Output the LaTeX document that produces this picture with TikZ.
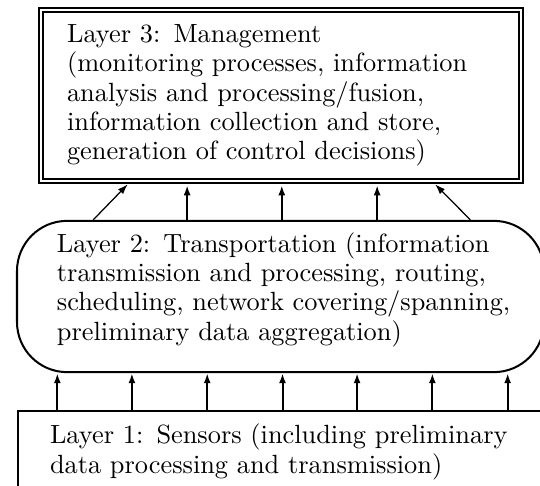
\documentclass[tikz,border=0pt]{standalone}
\usetikzlibrary{
    arrows.meta
}
\tikzset {
    double line/.style = {double, double distance = 0.8pt},
    layer/.style = {
        draw, line width = 0.8pt, inner sep = 0pt,
        font = \fontsize{10.45}{11.65}\selectfont, align = left
    },
    management/.style = {
        layer, double line,
        minimum width = 6.70cm, minimum height = 2.39cm,
        text width = 169.8pt
    },
    transport/.style = {
        layer, rounded corners = 0.7cm,
        minimum width = 7.35cm, minimum height = 2.11cm,
        text width = 177.4pt
    },
    sensors/.style = {
        layer, anchor = north west,
        inner xsep = 12.7pt, inner ysep = 5.2pt,
        text width = 200pt
    },
    up arrow/.style = {
        line width = 0.8pt,
        arrows = {-Latex[length = 4pt 0 0, width = 2.8pt]}
    },
    slant arrow/.style = {up arrow, line width = 0.5pt}
}

\begin{document}
\begin{tikzpicture}
    \useasboundingbox (0, 0) rectangle (7.531, 6.764);
    \clip (0, 0) rectangle (7.531, 6.764);
    \node (l3) [management] at (3.919, 5.432) {
        Layer 3: Management\\
        (monitoring processes, information\\
        analysis and processing/fusion,\\
        information collection and store,\\
        generation of control decisions)};
    \node (l2) [transport] at (3.912, 2.629) {
        Layer 2: Transportation (information\\
        transmission and processing, routing,\\
        \mbox{scheduling, network covering/spanning,}\\
        preliminary data aggregation)\rule[-8.2pt]{0pt}{0pt}};
    \node (l1) [sensors] at (0.237, 1.046) {
        Layer 1: Sensors (including preliminary\\
        data processing and transmission)};
    % sensors -> transport
    \foreach \x in {0.80, 1.84, 2.89, 3.94, 4.98, 6.03, 7.08}
        \draw [up arrow] (\x, 0 |- l1.north) -- (\x, 0 |- l2.south);
    % transport -> management
    \foreach \x in {2.61, 3.93, 5.26}
        \draw [up arrow, shorten > = 1.2pt] (\x, 0 |- l2.north) -- (\x, 0 |- l3.south);
    \draw [slant arrow, shorten > = 1.2pt] (1.30, 0 |- l2.north) -- (1.81, 0 |- l3.south);
    \draw [slant arrow, shorten > = 1.2pt] (6.56, 0 |- l2.north) -- (6.04, 0 |- l3.south);
\end{tikzpicture}
\end{document}
